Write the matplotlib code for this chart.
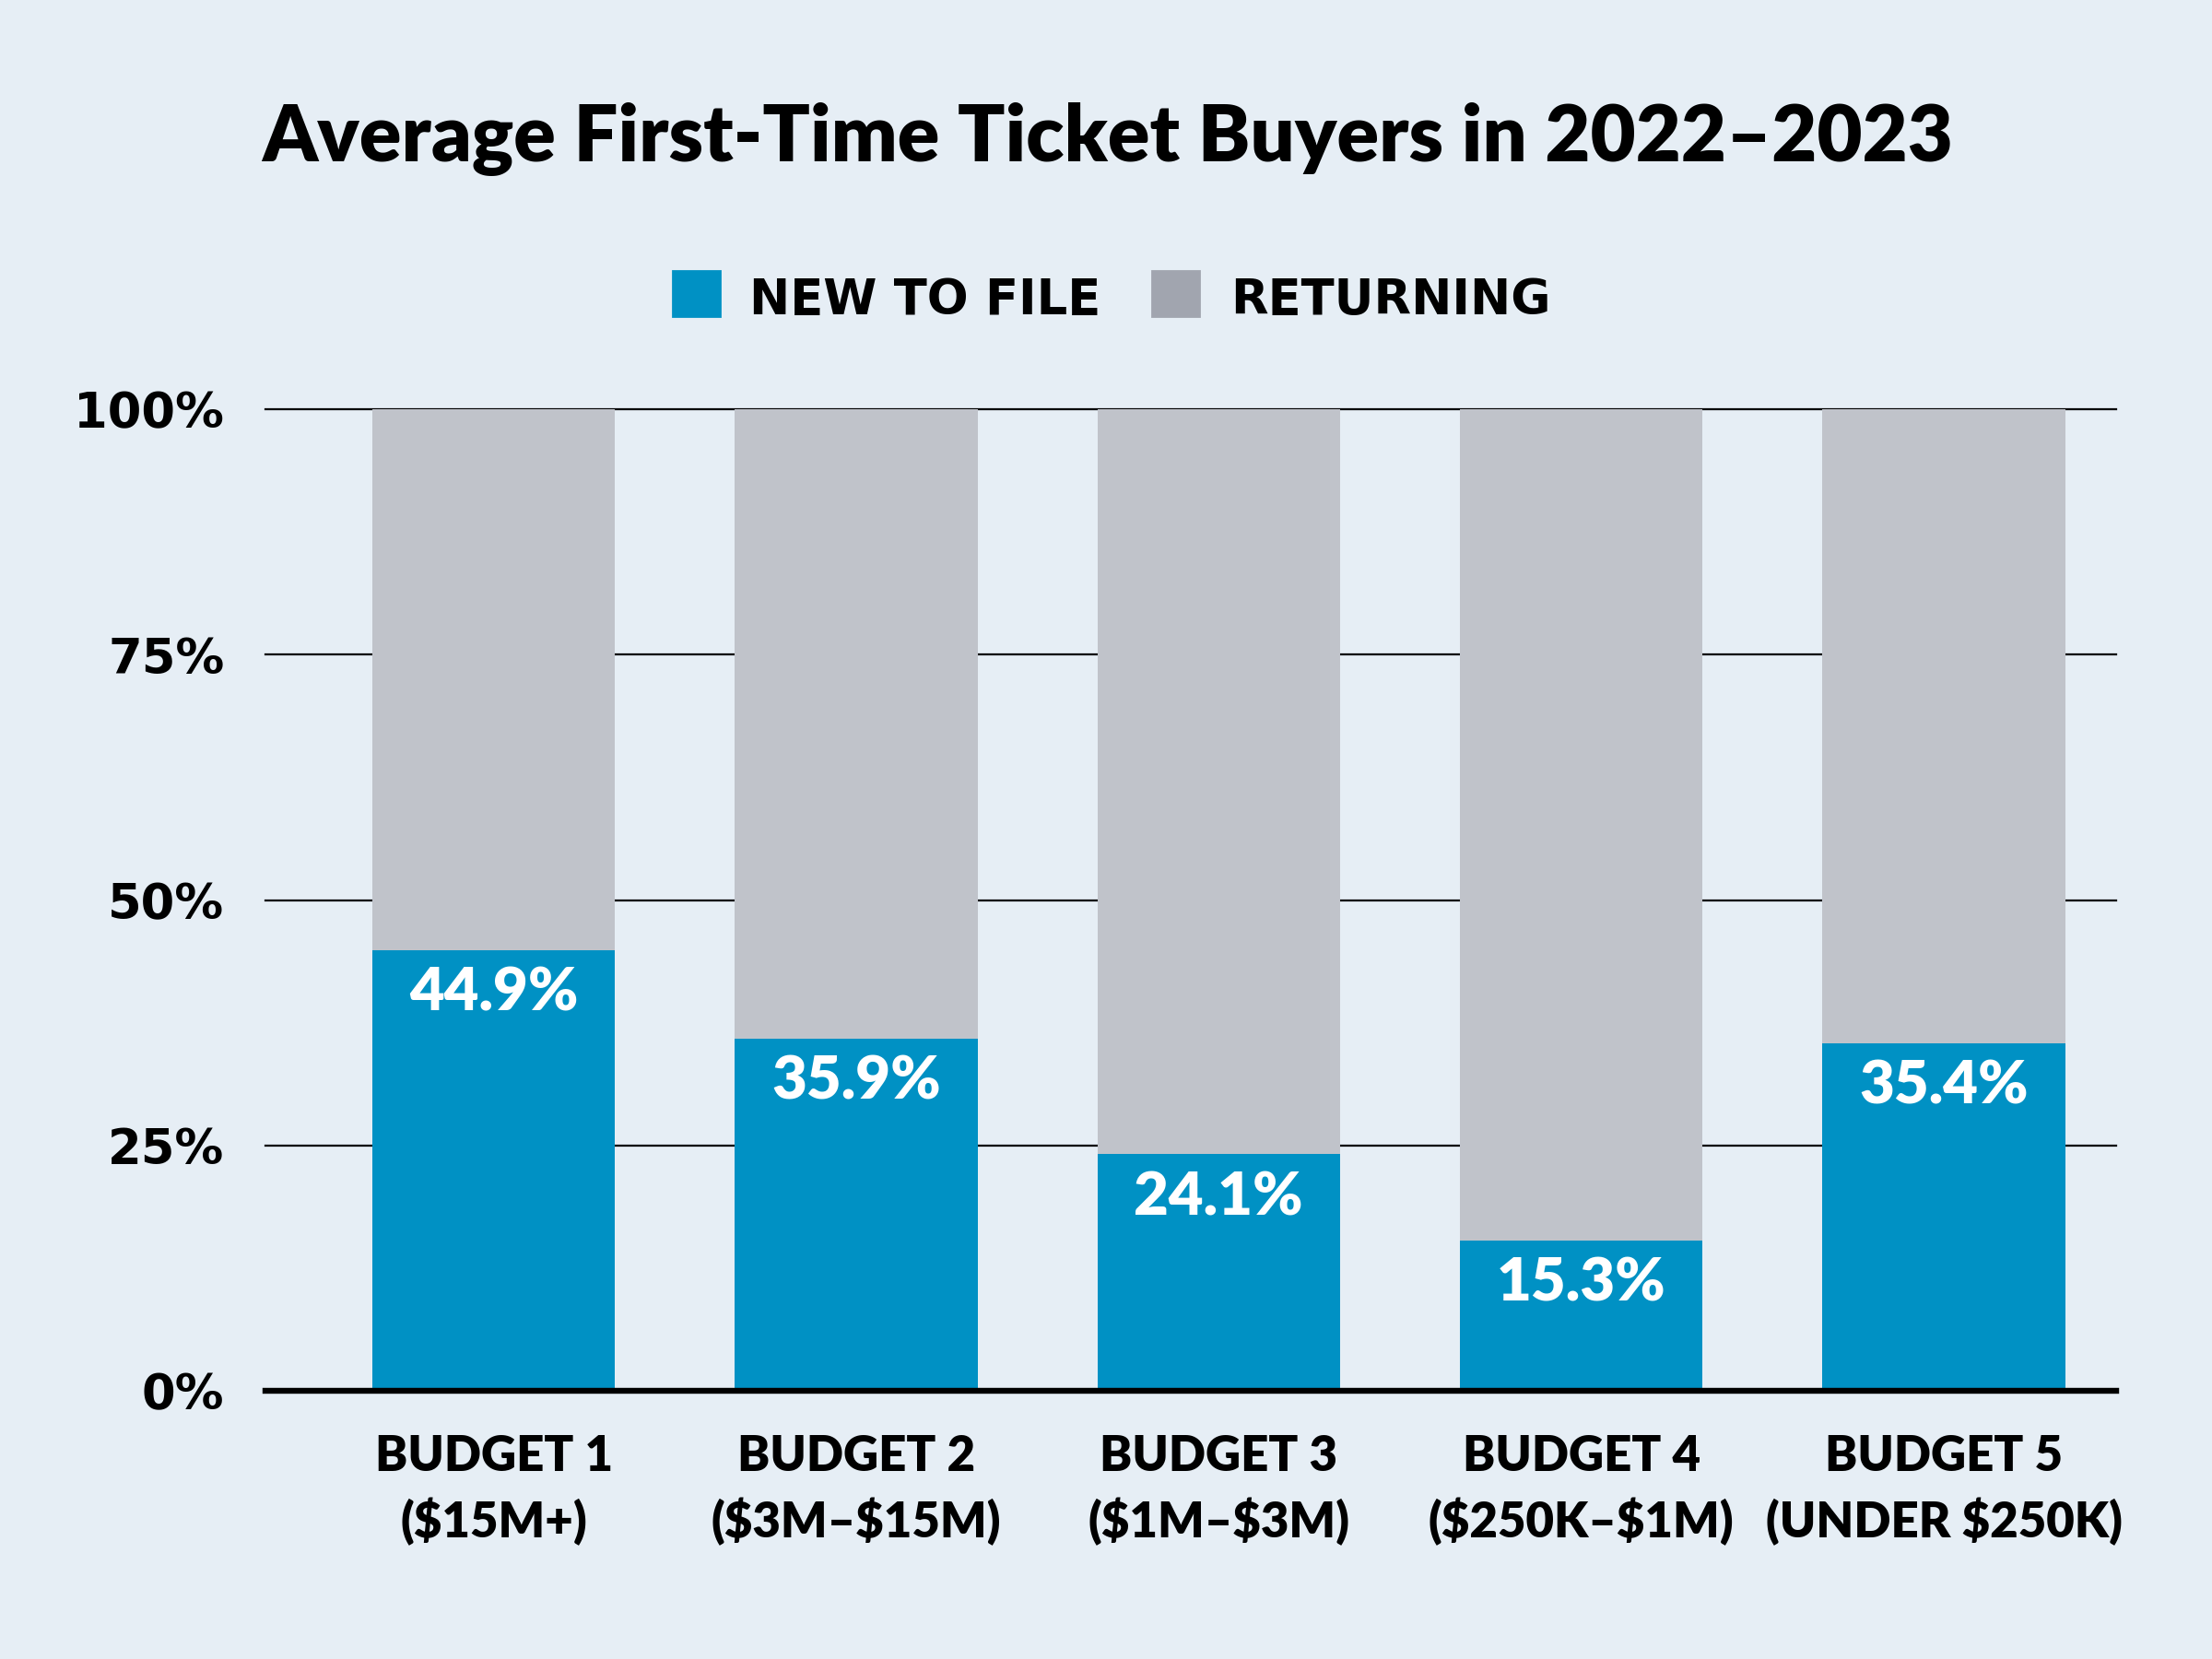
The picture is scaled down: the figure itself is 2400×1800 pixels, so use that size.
import matplotlib.pyplot as plt
from matplotlib.patches import Rectangle

plt.rcParams['text.parse_math'] = False

categories = ["BUDGET 1\n($15M+)", "BUDGET 2\n($3M\u2013$15M)", "BUDGET 3\n($1M\u2013$3M)",
              "BUDGET 4\n($250K\u2013$1M)", "BUDGET 5\n(UNDER $250K)"]
new_to_file = [44.9, 35.9, 24.1, 15.3, 35.4]
returning = [100 - v for v in new_to_file]
y_ticks = [0, 25, 50, 75, 100]
y_labels = ["0%", "25%", "50%", "75%", "100%"]

BG = "#E6EEF5"
BLUE = "#0091C4"
GREY = "#C0C3CA"
GREY_KEY = "#A1A5AF"

fig = plt.figure(figsize=(12, 9), dpi=200, facecolor=BG)
ax = fig.add_axes([0.1199, 0.1617, 0.8367, 0.5915])
ax.set_facecolor(BG)

x = range(len(categories))
ax.bar(x, new_to_file, width=0.67, color=BLUE, zorder=3)
ax.bar(x, returning, width=0.67, bottom=new_to_file, color=GREY, zorder=3)

# value labels inside the blue bars
for i, v in enumerate(new_to_file):
    ax.annotate(f"{v}%", (i, v), xytext=(0, -17), textcoords="offset points",
                ha="center", va="center", color="white", fontsize=23.5,
                fontweight="heavy", family="Lato", zorder=4)

# gridlines
for t in y_ticks[1:]:
    ax.axhline(t, color="black", lw=0.8, zorder=1, clip_on=False)
ax.axhline(0, color="black", lw=2.3, zorder=5, clip_on=False)

ax.set_xlim(-0.63, 4.475)
ax.set_ylim(0, 100)
ax.set_yticks(y_ticks)
ax.set_yticklabels(y_labels, fontsize=19, fontweight="bold", family="DejaVu Sans")
ax.set_xticks(list(x))
ax.set_xticklabels(categories, fontsize=19, fontweight="heavy", family="Lato",
                   linespacing=1.45)
ax.tick_params(axis="y", length=0, pad=16)
ax.tick_params(axis="x", length=0, pad=17)
for s in ax.spines.values():
    s.set_visible(False)

fig.text(0.5006, 0.916, "Average First-Time Ticket Buyers in 2022\u20132023",
         ha="center", va="center", fontsize=30.5, fontweight="heavy", family="Lato")

# legend keys
fig.patches.append(Rectangle((0.3042, 0.8094), 0.0211, 0.0272, color=BLUE,
                             transform=fig.transFigure, figure=fig))
fig.text(0.3387, 0.8190, "NEW TO FILE", ha="left", va="center", fontsize=19,
         fontweight="bold", family="DejaVu Sans")
fig.patches.append(Rectangle((0.5210, 0.8094), 0.0211, 0.0272, color=GREY_KEY,
                             transform=fig.transFigure, figure=fig))
fig.text(0.5561, 0.8190, "RETURNING", ha="left", va="center", fontsize=19,
         fontweight="bold", family="DejaVu Sans")

fig.savefig("out.png", dpi=200, facecolor=BG)
